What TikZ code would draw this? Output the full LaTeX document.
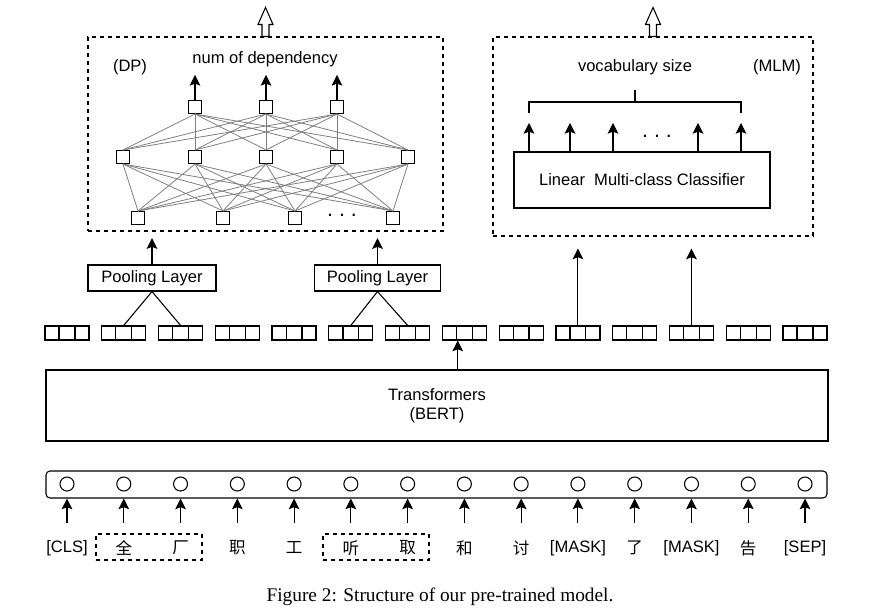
\documentclass[tikz,border=0pt]{standalone}
\usepackage{fontspec}
\setmainfont{Liberation Sans}
\newfontfamily\cjk{Noto Sans CJK SC}
\newfontfamily\capfont{Liberation Serif}
\usetikzlibrary{arrows.meta}
\tikzset{
  unit/.style={draw, line width=0.8pt, minimum size=9.75pt, inner sep=0pt},
  tokcirc/.style={draw, circle, line width=0.8pt, minimum size=10.5pt, inner sep=0pt},
  vecbox/.style={draw, line width=0.9pt, minimum width=33pt, minimum height=10.5pt, inner sep=0pt},
  plainbox/.style={draw, line width=0.8pt, inner sep=0pt},
  dashbox/.style={draw, dashed, line width=0.8pt, inner sep=0pt},
  arr/.style={-{Stealth[length=8pt,width=8pt,inset=1.5pt]}, line width=0.8pt},
  net/.style={black!50, line width=0.6pt},
  hollow/.style={draw, fill=white, line width=0.8pt},
  dots/.style={font=\fontsize{16pt}{16pt}\selectfont, inner sep=0pt},
}
% outlined arrow standing on the top edge of a box
\newcommand\hollowarrow[1]{\path[hollow] (#1) ++(-3.5,0) -- ++(0,-12) -- ++(-4,0) -- ++(7.5,-17) -- ++(7.5,17) -- ++(-4,0) -- ++(0,12) -- cycle;}
\begin{document}
\begin{tikzpicture}[x=0.75pt, y=-0.75pt, font=\fontsize{12.4pt}{14pt}\selectfont]
    \useasboundingbox (0,0) rectangle (871,607);

    % DP part
    \node[dashbox, minimum width=266.25pt, minimum height=145.5pt] (dp) at (265.5,134) {};
    \node (dplab) at (130,67) {(DP)};
    \node (dpout) at (265,59) {num of dependency};
    \node[unit] (t1) at (195,107) {};
    \node[unit] (t2) at (266,107) {};
    \node[unit] (t3) at (337,107) {};
    \node[unit] (m1) at (123,157) {};
    \node[unit] (m2) at (195,157) {};
    \node[unit] (m3) at (266,157) {};
    \node[unit] (m4) at (337,157) {};
    \node[unit] (m5) at (408,157) {};
    \node[unit] (b1) at (138,218) {};
    \node[unit] (b2) at (223,218) {};
    \node[unit] (b3) at (295,218) {};
    \node[unit] (b4) at (393,218) {};
    \node[dots] (bdots) at (342,215) {.\ .\ .};
    \foreach \i in {1,2,3} {
      \foreach \j in {1,...,5} \path (t\i.south) edge[net] (m\j.north);
      \draw[arr] (t\i.north) -- ++(0,-25);
    }
    \foreach \i in {1,...,5}
      \foreach \j in {1,...,4} \path (m\i.south) edge[net] (b\j.north);
    \hollowarrow{dp.north}

    % MLM part
    \node[dashbox, minimum width=240pt, minimum height=149.25pt] (mlm) at (653,136.5) {};
    \node (mlmout) at (635,67) {vocabulary size};
    \node (mlmlab) at (777,67) {(MLM)};
    \node[plainbox, minimum width=192pt, minimum height=42pt] (cls) at (642,180) {Linear\ \ Multi-class Classifier};
    \coordinate (o1) at (529,123);
    \coordinate (o2) at (570,123);
    \coordinate (o3) at (613,123);
    \coordinate (o4) at (698,123);
    \coordinate (o5) at (741,123);
    \foreach \i in {1,...,5} \draw[arr] (cls.north -| o\i) -- (o\i);
    \node[dots] (odots) at (657,136) {.\ .\ .};
    \coordinate (br) at (635,102);
    \draw[line width=0.8pt] ([yshift=-8pt]o1 |- br) -- (o1 |- br) -- (o5 |- br) -- ([yshift=-8pt]o5 |- br);
    \draw[line width=0.8pt] (br) -- ++(0,-12);
    \hollowarrow{mlm.north}

    % pooling layers
    \node[plainbox, minimum width=96pt, minimum height=19.5pt] (pool1) at (152,278) {Pooling Layer};
    \node[plainbox, minimum width=94pt, minimum height=19.5pt] (pool2) at (377.5,278) {Pooling Layer};

    % token vectors
    \foreach \i in {0,...,13} {
      \node[vecbox] (v\i) at (67+56.77*\i,333) {};
      \draw[line width=0.9pt] ([xshift=11pt]v\i.north west) -- ([xshift=11pt]v\i.south west);
      \draw[line width=0.9pt] ([xshift=-11pt]v\i.north east) -- ([xshift=-11pt]v\i.south east);
    }
    \draw[line width=0.8pt] (v1.north) -- (pool1.south) -- (v2.north);
    \draw[line width=0.8pt] (v5.north) -- (pool2.south) -- (v6.north);
    \draw[arr] (pool1.north) -- ([yshift=-5pt]pool1.north |- dp.south);
    \draw[arr] (pool2.north) -- ([yshift=-5pt]pool2.north |- dp.south);
    \draw[arr] (v9.north) -- ([yshift=-9pt]v9.north |- mlm.south);
    \draw[arr] (v11.north) -- ([yshift=-9pt]v11.north |- mlm.south);

    % encoder
    \node[plainbox, minimum width=586.5pt, minimum height=53.25pt, align=center] (bert) at (437,405.5) {Transformers\\(BERT)};
    \draw[arr] ([xshift=-5pt]v7.south |- bert.north) -- ([xshift=-5pt]v7.south);

    % input tokens
    \node[plainbox, rounded corners=3pt, minimum width=585.75pt, minimum height=20.25pt] (bar) at (436.5,484.5) {};
    \node[dashbox, minimum width=79.5pt, minimum height=19.5pt] (grp1) at (149,547) {};
    \node[dashbox, minimum width=79.5pt, minimum height=19.5pt] (grp2) at (376,547) {};
    \foreach \t [count=\i from 0] in {[CLS],\cjk 全,\cjk 厂,\cjk 职,\cjk 工,\cjk 听,\cjk 取,\cjk 和,\cjk 讨,[MASK],\cjk 了,[MASK],\cjk 告,[SEP]} {
      \node[tokcirc] (c\i) at (67+56.77*\i,484) {};
      \node (w\i) at (67+56.77*\i,548) {\t};
      \draw[arr] ([yshift=-23.25pt]c\i.south) -- (c\i |- bar.south);
    }

    % caption
    \node (cap) at (440,597) {\capfont\fontsize{14.5pt}{16pt}\selectfont Figure 2: Structure of our pre-trained model.};
\end{tikzpicture}
\end{document}
